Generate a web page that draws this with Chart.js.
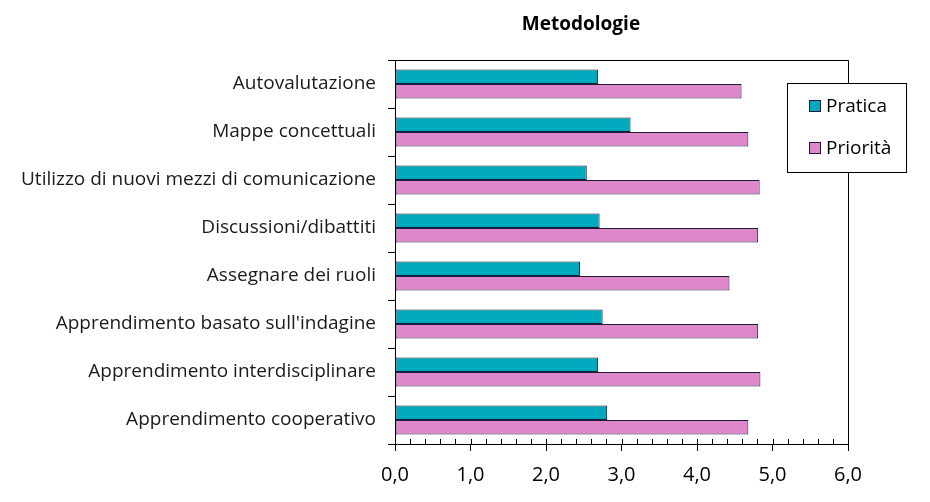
<!DOCTYPE html>
<html>
<head>
<meta charset="utf-8">
<script src="https://cdn.jsdelivr.net/npm/chart.js@4"></script>
<style>
  body { margin: 0; background: #fff; }
  #wrap { width: 930px; height: 502px; }
</style>
</head>
<body>
<div id="wrap"><canvas id="barChart" width="930" height="502"></canvas></div>
<script>
const chartTitle = "Metodologie";
const categories = [
  "Autovalutazione",
  "Mappe concettuali",
  "Utilizzo di nuovi mezzi di comunicazione",
  "Discussioni/dibattiti",
  "Assegnare dei ruoli",
  "Apprendimento basato sull'indagine",
  "Apprendimento interdisciplinare",
  "Apprendimento cooperativo",
];
const seriesNames = ["Pratica", "Priorità"];
const praticaValues = [2.69, 3.12, 2.54, 2.71, 2.45, 2.75, 2.69, 2.81];
const prioritaValues = [4.59, 4.68, 4.83, 4.81, 4.43, 4.81, 4.84, 4.68];
const xTicks = [0, 1, 2, 3, 4, 5, 6];

const tealColor = "#00A9BE";
const pinkColor = "#DC88CB";
const edgeColor = "#1e1a38";
const fontName = "'Open Sans', 'Liberation Sans', sans-serif";

// frame, minor ticks, title and the boxed legend
const decorPlugin = {
  id: "decor",
  afterDraw(chart) {
    const ctx = chart.ctx;
    const area = chart.chartArea;
    const xScale = chart.scales.x;
    ctx.save();
    ctx.strokeStyle = "#000";
    ctx.lineWidth = 1;

    // top and right frame
    ctx.beginPath();
    ctx.moveTo(area.left, area.top + 0.5);
    ctx.lineTo(area.right + 0.5, area.top + 0.5);
    ctx.lineTo(area.right + 0.5, area.bottom);
    ctx.stroke();

    // small ticks above the x axis every 0,2
    ctx.beginPath();
    for (let i = 0; i <= 30; i++) {
      const px = Math.round(xScale.getPixelForValue(i * 0.2)) + 0.5;
      ctx.moveTo(px, area.bottom - 5);
      ctx.lineTo(px, area.bottom);
    }
    ctx.stroke();

    // title
    ctx.fillStyle = "#000";
    ctx.font = "bold 19px " + fontName;
    ctx.textAlign = "center";
    ctx.textBaseline = "middle";
    ctx.fillText(chartTitle, 581, 25);

    // legend box
    const lx = 787, ly = 83, lw = 119, lh = 89;
    ctx.fillStyle = "#fff";
    ctx.fillRect(lx, ly, lw, lh);
    ctx.strokeRect(lx + 0.5, ly + 0.5, lw, lh);
    const colors = [tealColor, pinkColor];
    const rowsY = [106, 148];
    ctx.font = "19px " + fontName;
    ctx.textAlign = "left";
    seriesNames.forEach((name, i) => {
      ctx.fillStyle = colors[i];
      ctx.fillRect(809, rowsY[i] - 6, 12, 12);
      ctx.strokeStyle = edgeColor;
      ctx.strokeRect(809.5, rowsY[i] - 5.5, 11, 11);
      ctx.fillStyle = "#000";
      ctx.fillText(name, 826, rowsY[i] + 1);
    });
    ctx.restore();
  },
};

const barChart = new Chart(document.getElementById("barChart"), {
  type: "bar",
  data: {
    labels: categories,
    datasets: [
      {
        label: seriesNames[0],
        data: praticaValues,
        backgroundColor: tealColor,
        borderColor: edgeColor,
        borderWidth: 1,
        borderSkipped: false,
        categoryPercentage: 0.6,
        barPercentage: 1.0,
      },
      {
        label: seriesNames[1],
        data: prioritaValues,
        backgroundColor: pinkColor,
        borderColor: edgeColor,
        borderWidth: 1,
        borderSkipped: false,
        categoryPercentage: 0.6,
        barPercentage: 1.0,
      },
    ],
  },
  options: {
    indexAxis: "y",
    responsive: false,
    animation: false,
    layout: { padding: { top: 60, right: 82, left: 0, bottom: 0 } },
    plugins: {
      legend: { display: false },
      title: { display: false },
      tooltip: { enabled: false },
    },
    scales: {
      x: {
        min: 0,
        max: 6,
        afterBuildTicks: (scale) => {
          scale.ticks = xTicks.map((v) => ({ value: v }));
        },
        afterFit: (scale) => {
          scale.height = 58;
        },
        ticks: {
          color: "#000",
          font: { family: fontName, size: 20 },
          padding: 12,
          maxRotation: 0,
          callback: (v) => Number(v).toFixed(1).replace(".", ","),
        },
        grid: {
          drawOnChartArea: false,
          drawTicks: true,
          tickLength: 7,
          tickColor: "#000",
        },
        border: { display: true, color: "#000", width: 1 },
      },
      y: {
        afterFit: (scale) => {
          scale.width = 395;
        },
        ticks: {
          color: "#1a1a1a",
          font: { family: fontName, size: 19 },
          padding: 12,
        },
        grid: {
          offset: true,
          drawOnChartArea: false,
          drawTicks: true,
          tickLength: 7,
          tickColor: "#000",
        },
        border: { display: true, color: "#000", width: 1 },
      },
    },
  },
  plugins: [decorPlugin],
});
</script>
</body>
</html>
